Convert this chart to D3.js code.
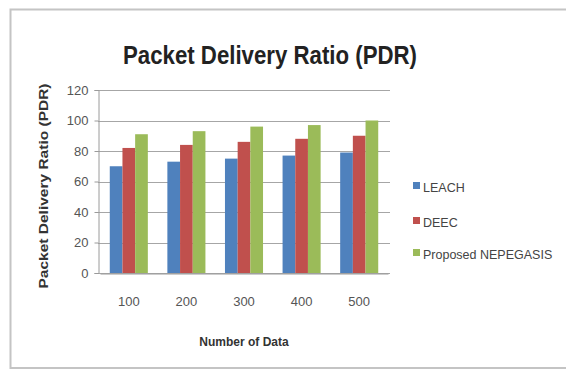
<!DOCTYPE html>
<html><head><meta charset="utf-8">
<script src="https://cdn.jsdelivr.net/npm/d3@7"></script>
<style>body{margin:0;background:#fff}svg{display:block}</style>
</head><body><svg id="c" width="566" height="369"></svg>
<script>
const categories = ["100","200","300","400","500"];
const seriesNames = ["LEACH","DEEC","Proposed NEPEGASIS"];
const leach = [70,73,75,77,79];
const deec = [82,84,86,88,90];
const nepegasis = [91,93,96,97,100];
const yTicks = [0,20,40,60,80,100,120];
const colors = ["#4F81BD","#C0504D","#9BBB59"];
const series = [leach, deec, nepegasis];

const svg = d3.select("#c");
const font = "'Liberation Sans Narrow','Liberation Sans',Arial,sans-serif";

// outer frame
svg.append("rect").attr("x",10.5).attr("y",9.5).attr("width",600).attr("height",358.5)
  .attr("fill","#fff").attr("stroke","#c4c4c4").attr("stroke-width",2);

const x = d3.scaleBand().domain(categories).range([100,388]).paddingInner(0).paddingOuter(0);
const xi = d3.scaleBand().domain(d3.range(3)).range([0, x.bandwidth()]).paddingInner(0).paddingOuter(0.77);
const y = d3.scaleLinear().domain([0,120]).range([273,90]);

// gridlines
svg.append("g").selectAll("line").data(yTicks).join("line")
  .attr("x1",98).attr("x2",390).attr("y1",d=>Math.round(y(d))+0.5).attr("y2",d=>Math.round(y(d))+0.5)
  .attr("stroke","#a6a6a6").attr("stroke-width",1);

// bars
categories.forEach((c,ci)=>{
  series.forEach((s,si)=>{
    svg.append("rect").attr("x",x(c)+xi(si)).attr("width",xi.bandwidth())
      .attr("y",y(s[ci])).attr("height",y(0)-y(s[ci])).attr("fill",colors[si]);
  });
});

// axes
const yAxis = d3.axisLeft(y).tickValues(yTicks).tickSize(4).tickPadding(6);
const gy = svg.append("g").attr("transform","translate(98.5,0)").call(yAxis);
gy.select(".domain").attr("stroke","#9a9a9a");
gy.selectAll(".tick line").attr("stroke","#9a9a9a");
gy.selectAll("text").attr("font-family",font).attr("font-size",13).attr("fill","#555");

const xAxis = d3.axisBottom(x).tickSize(0).tickPadding(23);
const gx = svg.append("g").attr("transform","translate(0,273.5)").call(xAxis);
gx.select(".domain").attr("stroke","#9a9a9a");
gx.selectAll("text").attr("font-family",font).attr("font-size",13).attr("fill","#555");

// title
svg.append("text").attr("x",270).attr("y",64).attr("text-anchor","middle")
  .attr("font-family",font).attr("font-weight","bold").attr("font-size",26).attr("fill","#222")
  .attr("textLength",294).attr("lengthAdjust","spacingAndGlyphs")
  .text("Packet Delivery Ratio (PDR)");

// axis titles
svg.append("text").attr("transform","translate(48,186) rotate(-90)").attr("text-anchor","middle")
  .attr("font-family",font).attr("font-weight","bold").attr("font-size",12).attr("fill","#333")
  .attr("textLength",205).attr("lengthAdjust","spacingAndGlyphs")
  .text("Packet Delivery Ratio (PDR)");
svg.append("text").attr("x",244).attr("y",346).attr("text-anchor","middle")
  .attr("font-family",font).attr("font-weight","bold").attr("font-size",12).attr("fill","#333")
  .text("Number of Data");

// legend
const legY = [187,222,254];
seriesNames.forEach((n,i)=>{
  svg.append("rect").attr("x",413).attr("y",legY[i]-5).attr("width",7).attr("height",7).attr("fill",colors[i]);
  svg.append("text").attr("x",423).attr("y",legY[i]+4.5).attr("font-family",font).attr("font-size",12.5)
    .attr("fill","#444").text(n);
});
</script></body></html>
